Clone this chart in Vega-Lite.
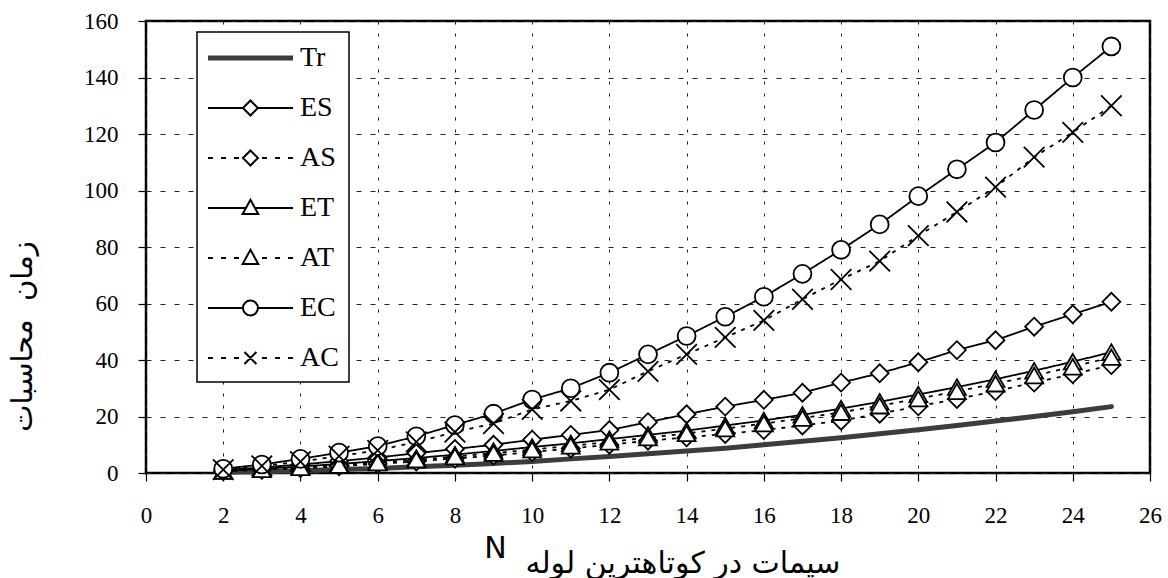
{
  "$schema": "https://vega.github.io/schema/vega-lite/v6.json",
  "width": 1004,
  "height": 452,
  "autosize": {"type": "none"},
  "padding": {"left": 146, "top": 21, "right": 18, "bottom": 105},
  "background": "white",
  "config": {
    "view": {"stroke": "#000", "strokeWidth": 2.5},
    "font": "Liberation Serif",
    "legend": {"strokeWidth": 1.5, "symbolOpacity": 1}
  },
  "data": {
    "values": [
      {"N": 2, "Tr": 0.3, "ES": 1.0, "AS": 0.6, "ET": 0.8, "AT": 0.7, "EC": 1.5, "AC": 1.2},
      {"N": 3, "Tr": 0.5, "ES": 2.0, "AS": 1.1, "ET": 1.5, "AT": 1.3, "EC": 3.0, "AC": 2.5},
      {"N": 4, "Tr": 0.8, "ES": 3.0, "AS": 1.7, "ET": 2.3, "AT": 2.0, "EC": 5.0, "AC": 4.0},
      {"N": 5, "Tr": 1.2, "ES": 4.2, "AS": 2.4, "ET": 3.2, "AT": 2.8, "EC": 7.2, "AC": 6.0},
      {"N": 6, "Tr": 1.6, "ES": 5.5, "AS": 3.2, "ET": 4.2, "AT": 3.7, "EC": 9.5, "AC": 8.0},
      {"N": 7, "Tr": 2.2, "ES": 7.0, "AS": 4.1, "ET": 5.3, "AT": 4.7, "EC": 13.0, "AC": 11.0},
      {"N": 8, "Tr": 2.7, "ES": 8.5, "AS": 5.1, "ET": 6.5, "AT": 5.8, "EC": 17.0, "AC": 14.5},
      {"N": 9, "Tr": 3.4, "ES": 10.0, "AS": 6.2, "ET": 7.8, "AT": 7.0, "EC": 21.0, "AC": 17.5},
      {"N": 10, "Tr": 4.1, "ES": 11.8, "AS": 7.4, "ET": 9.2, "AT": 8.3, "EC": 26.0, "AC": 22.5},
      {"N": 11, "Tr": 5.0, "ES": 13.5, "AS": 8.7, "ET": 10.5, "AT": 9.6, "EC": 30.0, "AC": 25.5},
      {"N": 12, "Tr": 5.8, "ES": 15.2, "AS": 10.0, "ET": 12.0, "AT": 11.0, "EC": 35.5, "AC": 29.5},
      {"N": 13, "Tr": 6.8, "ES": 18.0, "AS": 11.4, "ET": 13.5, "AT": 12.5, "EC": 42.0, "AC": 36.0},
      {"N": 14, "Tr": 7.8, "ES": 20.8, "AS": 12.6, "ET": 15.0, "AT": 14.0, "EC": 48.5, "AC": 42.0},
      {"N": 15, "Tr": 8.8, "ES": 23.5, "AS": 13.8, "ET": 16.8, "AT": 15.7, "EC": 55.3, "AC": 48.0},
      {"N": 16, "Tr": 10.0, "ES": 25.9, "AS": 15.2, "ET": 18.6, "AT": 17.5, "EC": 62.4, "AC": 54.0},
      {"N": 17, "Tr": 11.2, "ES": 28.4, "AS": 16.8, "ET": 20.6, "AT": 19.4, "EC": 70.5, "AC": 61.5},
      {"N": 18, "Tr": 12.5, "ES": 32.0, "AS": 18.5, "ET": 22.8, "AT": 21.5, "EC": 79.0, "AC": 68.5},
      {"N": 19, "Tr": 13.9, "ES": 35.3, "AS": 21.0, "ET": 25.2, "AT": 23.8, "EC": 88.0, "AC": 75.0},
      {"N": 20, "Tr": 15.3, "ES": 39.2, "AS": 23.6, "ET": 27.8, "AT": 26.3, "EC": 98.0, "AC": 84.0},
      {"N": 21, "Tr": 16.8, "ES": 43.5, "AS": 26.2, "ET": 30.4, "AT": 28.9, "EC": 107.5, "AC": 92.4},
      {"N": 22, "Tr": 18.4, "ES": 47.0, "AS": 29.0, "ET": 33.2, "AT": 31.6, "EC": 117.0, "AC": 101.2},
      {"N": 23, "Tr": 20.0, "ES": 51.8, "AS": 32.0, "ET": 36.2, "AT": 34.5, "EC": 128.5, "AC": 111.8},
      {"N": 24, "Tr": 21.7, "ES": 56.2, "AS": 35.0, "ET": 39.4, "AT": 37.6, "EC": 140.0, "AC": 120.6},
      {"N": 25, "Tr": 23.5, "ES": 60.6, "AS": 38.2, "ET": 42.8, "AT": 41.0, "EC": 151.0, "AC": 130.0}
    ]
  },
  "transform": [
    {"fold": ["Tr", "ES", "AS", "ET", "AT", "EC", "AC"], "as": ["series", "t"]}
  ],
  "encoding": {
    "x": {
      "field": "N",
      "type": "quantitative",
      "scale": {"domain": [0, 26], "nice": false, "zero": false},
      "axis": {
        "values": [0, 2, 4, 6, 8, 10, 12, 14, 16, 18, 20, 22, 24, 26],
        "domain": false,
        "grid": true,
        "gridColor": "#222",
        "gridWidth": 1,
        "gridDash": [3, 9],
        "tickColor": "#000",
        "tickSize": 8,
        "tickWidth": 1.2,
        "labelFont": "Liberation Serif",
        "labelFontSize": 23,
        "labelColor": "#000",
        "labelPadding": 23,
        "labelFlush": false,
        "labelOverlap": false,
        "title": ["N\u00a0\u00a0\u00a0\u00a0\u00a0\u00a0\u00a0\u00a0\u00a0\u00a0\u00a0\u00a0\u00a0\u00a0\u00a0\u00a0\u00a0\u00a0\u00a0\u00a0\u00a0\u00a0\u00a0\u00a0\u00a0\u00a0\u00a0\u00a0\u00a0\u00a0\u00a0\u00a0\u00a0\u00a0\u00a0\u200b", "سیمات در کوتاهترین لوله"],
        "titleFont": "DejaVu Sans",
        "titleFontSize": 30,
        "titleFontWeight": "normal",
        "titleColor": "#000",
        "titleAlign": "right",
        "titleAnchor": "end",
        "titleBaseline": "alphabetic",
        "titleLineHeight": 15,
        "titleX": 694,
        "titleY": 84
      }
    },
    "y": {
      "field": "t",
      "type": "quantitative",
      "scale": {"domain": [0, 160], "nice": false},
      "axis": {
        "values": [0, 20, 40, 60, 80, 100, 120, 140, 160],
        "domain": false,
        "grid": true,
        "gridColor": "#222",
        "gridWidth": 1,
        "gridDash": [5, 9],
        "tickColor": "#000",
        "tickSize": 8,
        "tickWidth": 1.2,
        "labelFont": "Liberation Serif",
        "labelFontSize": 23,
        "labelColor": "#000",
        "labelPadding": 20,
        "labelFlush": false,
        "labelOverlap": false,
        "title": "زمان\u00a0\u00a0محاسبات",
        "titleFont": "DejaVu Sans",
        "titleFontSize": 29,
        "titleFontWeight": "normal",
        "titleColor": "#000",
        "titleAngle": 270,
        "titleAlign": "center",
        "titleBaseline": "middle",
        "titleX": -124,
        "titleY": 315
      }
    }
  },
  "layer": [
    {
      "transform": [{"filter": "datum.series === 'Tr'"}],
      "mark": {"type": "line", "stroke": "#3c3c3c", "strokeWidth": 5, "strokeCap": "round"},
      "encoding": {}
    },
    {
      "transform": [{"filter": "datum.series !== 'Tr'"}],
      "mark": {"type": "line", "stroke": "#000", "strokeWidth": 1.8},
      "encoding": {
        "strokeDash": {
          "field": "series",
          "type": "nominal",
          "scale": {
            "domain": ["ES", "AS", "ET", "AT", "EC", "AC"],
            "range": [[1, 0], [4, 6], [1, 0], [4, 6], [1, 0], [4, 6]]
          },
          "legend": null
        }
      }
    },
    {
      "transform": [{"filter": "datum.series !== 'Tr'"}],
      "mark": {"type": "point", "filled": true, "fill": "#fff", "stroke": "#000", "strokeWidth": 1.8, "size": 320, "opacity": 1},
      "encoding": {
        "shape": {
          "field": "series",
          "type": "nominal",
          "scale": {
            "domain": ["ES", "AS", "ET", "AT", "EC", "AC"],
            "range": ["diamond", "diamond", "triangle-up", "triangle-up", "circle", "M-1.15,-1.15L1.15,1.15M1.15,-1.15L-1.15,1.15"]
          },
          "legend": null
        }
      }
    },
    {
      "transform": [{"filter": "datum.N === 2"}],
      "mark": {"type": "point", "filled": false, "strokeWidth": 2, "size": 900, "opacity": 0},
      "encoding": {
        "shape": {
          "field": "series",
          "type": "nominal",
          "scale": {
            "domain": ["Tr", "ES", "AS", "ET", "AT", "EC", "AC"],
            "range": [
              "M-1,-0.1H4.67M-1,0H4.67M-1,0.1H4.67",
              "M-1,0H1.33M2.33,0H4.67M1.33,0L1.83,-0.5L2.33,0L1.83,0.5Z",
              "M-1,0H-0.67M-0.13,0H0.2M0.73,0H1.07M2.6,0H2.93M3.47,0H3.8M4.33,0H4.67M1.33,0L1.83,-0.5L2.33,0L1.83,0.5Z",
              "M-1,0H1.53M2.13,0H4.67M1.83,-0.55L2.35,0.4L1.31,0.4Z",
              "M-1,0H-0.67M-0.13,0H0.2M0.73,0H1.07M2.6,0H2.93M3.47,0H3.8M4.33,0H4.67M1.83,-0.55L2.35,0.4L1.31,0.4Z",
              "M-1,0H1.33M2.33,0H4.67M1.33,0A0.5,0.5 0 1,1 2.33,0A0.5,0.5 0 1,1 1.33,0Z",
              "M-1,0H-0.67M-0.13,0H0.2M0.73,0H1.07M2.6,0H2.93M3.47,0H3.8M4.33,0H4.67M1.43,-0.4L2.23,0.4M2.23,-0.4L1.43,0.4"
            ]
          },
          "legend": {
            "orient": "none",
            "legendX": 51,
            "legendY": 11,
            "title": null,
            "padding": 10,
            "rowPadding": 20,
            "labelOffset": 61,
            "labelFont": "Liberation Serif",
            "labelFontSize": 28,
            "labelColor": "#000",
            "labelLimit": 0,
            "symbolSize": 900,
            "symbolStrokeWidth": 2,
            "symbolOpacity": 1,
            "strokeColor": "#000",
            "fillColor": "#fff"
          }
        },
        "stroke": {
          "field": "series",
          "type": "nominal",
          "scale": {
            "domain": ["Tr", "ES", "AS", "ET", "AT", "EC", "AC"],
            "range": ["#3c3c3c", "#000", "#000", "#000", "#000", "#000", "#000"]
          }
        }
      }
    }
  ],
  "resolve": {
    "scale": {"shape": "independent", "stroke": "independent"},
    "legend": {"shape": "independent", "stroke": "independent"}
  }
}
